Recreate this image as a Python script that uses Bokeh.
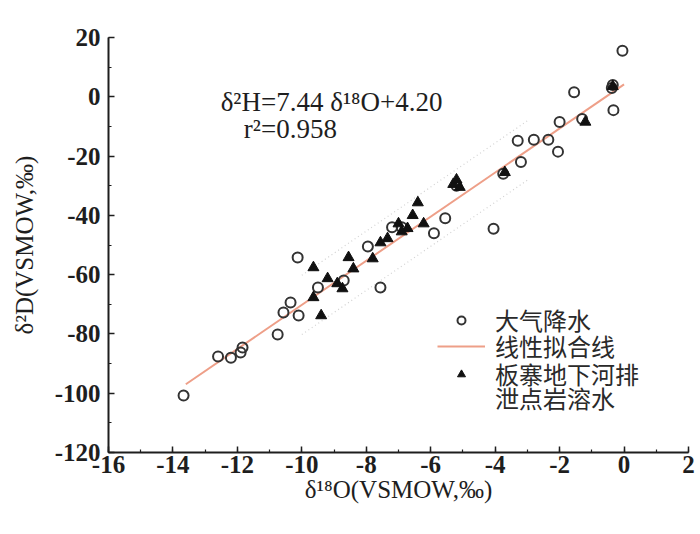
from bokeh.plotting import figure
from bokeh.models import Range1d, Legend, LegendItem, Label, FixedTicker
from bokeh.embed import file_html
from bokeh.resources import INLINE

# Precipitation (大气降水)
precip_o18 = [-0.05, -1.55, -0.35, -0.33, -0.38, -2.0, -1.3, -3.3, -2.8, -2.35, -2.05,
              -3.2, -3.75, -4.05, -5.55, -5.9, -5.2, -6.9, -7.2, -7.56, -7.95, -8.7,
              -9.5, -10.13, -10.35, -10.57, -10.1, -10.75, -11.84, -11.9, -12.2, -12.6,
              -13.67]
precip_d = [15.5, 1.5, 4.0, -4.5, 3.0, -8.5, -7.5, -14.8, -14.5, -14.5, -18.5,
            -22.0, -26.0, -44.5, -41.0, -46.0, -30.0, -44.0, -44.0, -64.3, -50.5, -62.0,
            -64.3, -54.2, -69.4, -72.8, -73.8, -80.2, -84.6, -86.3, -88.0, -87.6,
            -100.8]

# Karst water at Banzhai underground river outlet (板寨地下河排泄点岩溶水)
karst_o18 = [-0.35, -1.2, -3.7, -5.3, -5.2, -5.1, -6.22, -6.4, -6.56, -6.72, -7.0,
             -7.34, -7.56, -7.8, -8.4, -8.55, -8.74, -9.2, -9.64, -9.64, -9.4, -6.9,
             -8.9]
karst_d = [3.5, -8.5, -25.5, -29.5, -28.0, -30.5, -42.8, -35.7, -40.0, -44.4, -42.8,
           -47.8, -49.2, -54.6, -58.0, -54.2, -64.7, -61.3, -57.6, -67.7, -73.8, -45.5,
           -63.0]

# Linear fit
fit_slope = 7.44
fit_intercept = 4.20
fit_x = [-13.6, 0.0]
fit_y = [fit_slope * v + fit_intercept for v in fit_x]
band_x = [-10.0, -3.0]
band_off = 10.0

x_ticks = [-16, -14, -12, -10, -8, -6, -4, -2, 0, 2]
y_ticks = [-120, -100, -80, -60, -40, -20, 0, 20]

legend_labels = ["大气降水", "线性拟合线", "板寨地下河排", "泄点岩溶水"]

SERIF = "Liberation Serif"
CJK = "Noto Sans CJK SC"
INK = "#1e1e1e"

p = figure(width=696, height=526, output_backend="svg", toolbar_location=None,
           x_range=Range1d(-16, 2), y_range=Range1d(-120, 20),
           min_border_left=108, min_border_right=8, min_border_top=37,
           min_border_bottom=74)
p.outline_line_color = None
p.grid.visible = False
p.background_fill_color = "white"

# faint dotted bands
p.line(band_x, [fit_slope * v + fit_intercept + band_off for v in band_x],
       line_color="#d2d2d2", line_dash="1 3", line_width=1.2)
p.line(band_x, [fit_slope * v + fit_intercept - band_off for v in band_x],
       line_color="#d2d2d2", line_dash="1 3", line_width=1.2)

r_line = p.line(fit_x, fit_y, line_color="#ee9f88", line_width=2)
r_circ = p.scatter(precip_o18, precip_d, marker="circle", size=10, fill_color=None,
                   line_color="#333333", line_width=2)
r_tri = p.scatter(karst_o18, karst_d, marker="triangle", size=11, fill_color="#111111",
                  line_color="#111111")
r_blank = p.scatter([], [], marker="circle", size=1, alpha=0)

for ax in (p.xaxis[0], p.yaxis[0]):
    ax.axis_line_width = 2
    ax.axis_line_color = INK
    ax.major_tick_in = 6
    ax.major_tick_out = 0
    ax.minor_tick_in = 3
    ax.minor_tick_out = 0
    ax.major_tick_line_width = 1.5
    ax.minor_tick_line_width = 1.2
    ax.major_tick_line_color = INK
    ax.minor_tick_line_color = INK
    ax.major_label_text_font = SERIF
    ax.major_label_text_font_size = "25px"
    ax.major_label_text_font_style = "bold"
    ax.major_label_text_color = INK
    ax.axis_label_text_font = SERIF
    ax.axis_label_text_font_size = "25px"
    ax.axis_label_text_font_style = "normal"
    ax.axis_label_text_color = INK

p.xaxis[0].ticker = FixedTicker(ticks=x_ticks, minor_ticks=list(range(-16, 3)))
p.yaxis[0].ticker = FixedTicker(ticks=y_ticks, minor_ticks=list(range(-120, 21, 10)))
p.xaxis[0].major_label_overrides = {v: str(v) for v in x_ticks}
p.yaxis[0].major_label_overrides = {v: str(v) for v in y_ticks}
p.xaxis[0].major_label_standoff = 3
p.yaxis[0].major_label_standoff = 8
p.xaxis[0].axis_label = "δ¹⁸O(VSMOW,‰)"
p.yaxis[0].axis_label = "δ²D(VSMOW,‰)"
p.xaxis[0].axis_label_standoff = 0
p.yaxis[0].axis_label_standoff = 14

p.add_layout(Label(x=-12.52, y=-1.9, text="δ²H=7.44 δ¹⁸O+4.20", text_font=SERIF,
                   text_font_size="27px", text_baseline="middle", text_color=INK))
p.add_layout(Label(x=-11.8, y=-11.0, text="r²=0.958", text_font=SERIF,
                   text_font_size="27px", text_baseline="middle", text_color=INK))

# one legend per row so the rows can sit as tightly as in the original
legend_rows = [(legend_labels[0], r_circ, 115),
               (legend_labels[1], r_line, 89),
               (legend_labels[2], r_tri, 61),
               (legend_labels[3], r_blank, 37)]
for lab, rend, yoff in legend_rows:
    lg = Legend(items=[LegendItem(label=lab, renderers=[rend])],
                location=(329, yoff), background_fill_alpha=0, border_line_color=None,
                label_text_font=CJK, label_text_font_size="24px",
                label_text_color="#2a2a2a", glyph_width=48, glyph_height=20,
                label_standoff=10, spacing=0, padding=0, margin=0, label_height=20)
    p.add_layout(lg)

open("out.html", "w").write(file_html(p, INLINE))
